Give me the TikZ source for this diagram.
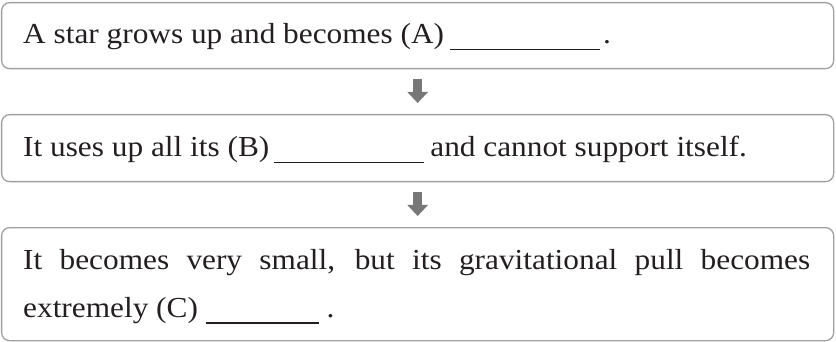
\documentclass[tikz,border=0pt]{standalone}
\usepackage{fontspec}
\setmainfont[FakeStretch=1.08]{Liberation Serif}
\usetikzlibrary{arrows.meta}
\definecolor{txt}{HTML}{231F20}
\definecolor{frame}{HTML}{A0A0A0}
\definecolor{arr}{HTML}{777777}
\newcommand{\blank}[1]{\rule[-6.5pt]{#1}{1.3pt}}
\begin{document}
\begin{tikzpicture}[x=1pt,y=1pt,
  box/.style={draw=frame,line width=1.3pt,rounded corners=8pt,anchor=north west,
    minimum width=832pt,inner sep=0pt},
  label/.style={anchor=base west,inner sep=0pt,text=txt,
    font=\fontsize{29}{48}\selectfont},
  flowarrow/.style={draw=arr,line width=9pt,
    -{Triangle[width=20pt,length=11pt]},shorten <=10pt,shorten >=11pt}]
\useasboundingbox (0,0) rectangle (836,-342);
\node[box,minimum height=66pt] (b1) at (1,-2) {};
\node[box,minimum height=67pt] (b2) at (1,-114) {};
\node[box,minimum height=113pt] (b3) at (1,-227) {};
\node[label] (t1) at (23,-44) {A star grows up and becomes (A)\hspace{6pt}\blank{150pt}\hspace{3pt}.};
\node[label] (t2) at (23,-157) {It uses up all its (B)\hspace{5pt}\blank{150pt}\hspace{6pt}and cannot support itself.};
\node[label,anchor=north west,text width=787pt,align=justify] (t3) at (23,-235.4)
  {\strut It becomes very small, but its gravitational pull becomes\linebreak extremely (C) \blank{113pt} .};
\draw[flowarrow] (b1.south) -- (b2.north);
\draw[flowarrow] (b2.south) -- (b3.north);
\end{tikzpicture}
\end{document}
